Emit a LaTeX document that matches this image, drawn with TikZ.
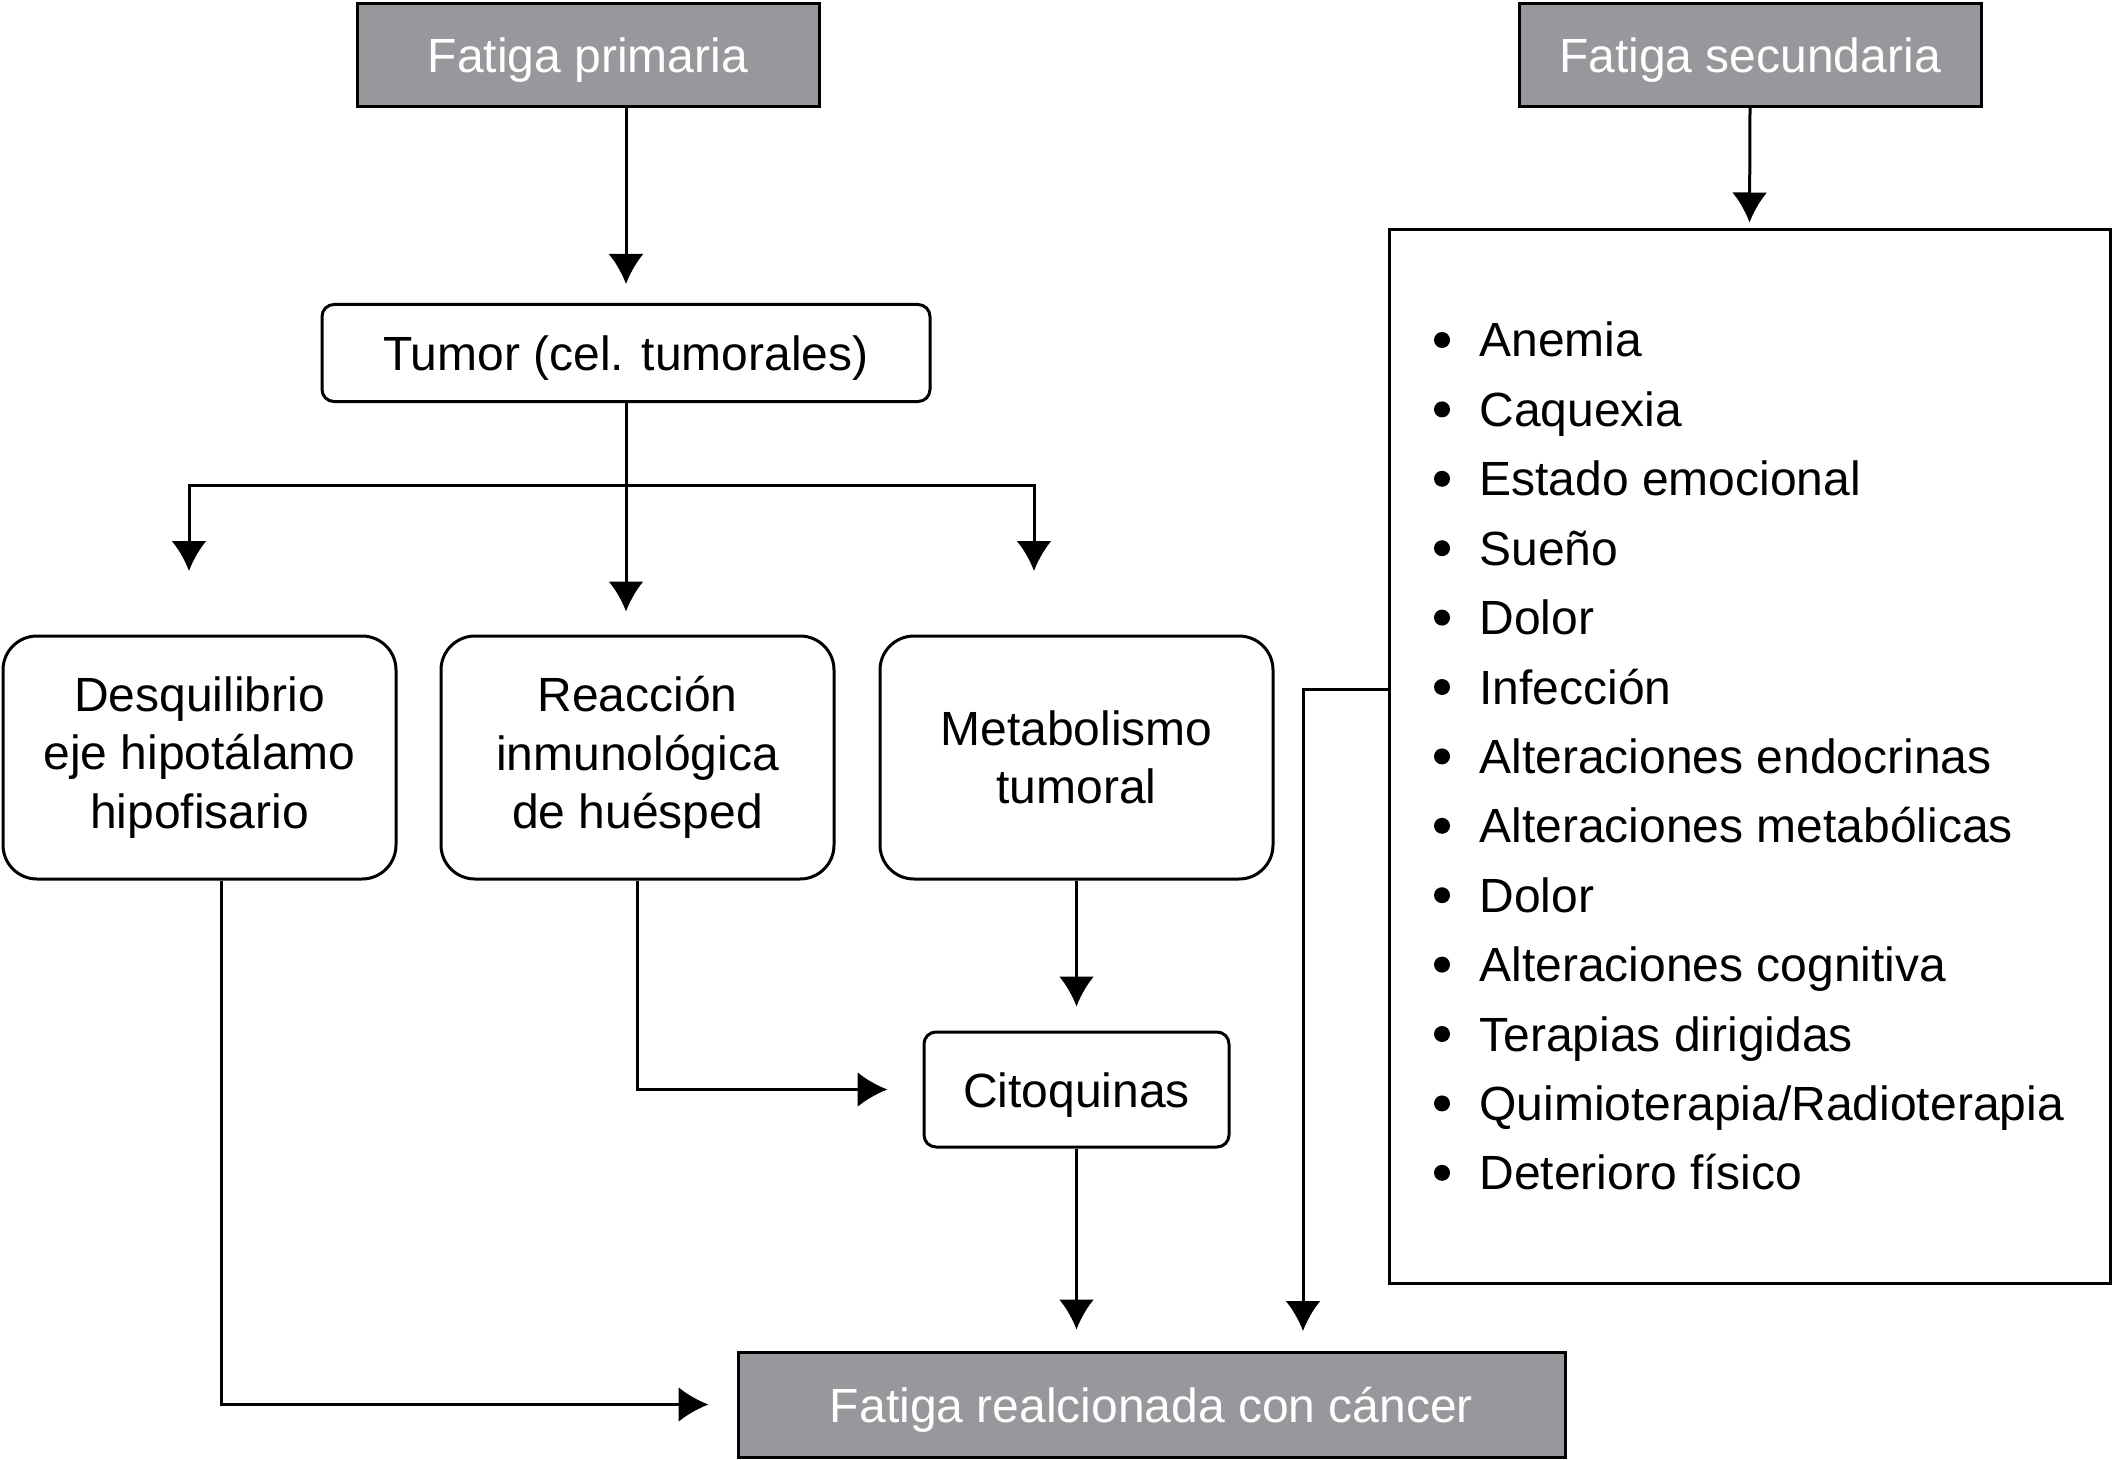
\documentclass[tikz,border=0pt]{standalone}
\usepackage{fontspec}
\setmainfont{Liberation Sans}
\usetikzlibrary{arrows.meta}
\definecolor{boxgrey}{HTML}{97989B}
\tikzset{
  greybox/.style={draw,fill=boxgrey,text=white,minimum width=231pt,minimum height=51.5pt,inner sep=0pt,
    text height=17.5pt,text depth=0pt},
  smallbox/.style={draw,rounded corners=6pt,minimum height=48.5pt,inner sep=0pt,text height=17.5pt,text depth=0pt},
  bigbox/.style={draw,rounded corners=17pt,minimum width=196.5pt,minimum height=121.5pt,align=center,inner sep=0pt},
  listbox/.style={draw,minimum width=360.5pt,minimum height=526.5pt,inner sep=0pt},
  item/.style={anchor=base west,inner sep=0pt}
}
\begin{document}
\begin{tikzpicture}[x=0.5pt,y=-0.5pt,->,>={Latex[length=15pt,width=17.5pt]},line width=1.5pt,
    font=\fontsize{24}{29.3}\selectfont]
    \useasboundingbox (0,0) rectangle (2113,1460);
    \node[greybox] (prim) at (588,55) {Fatiga primaria};
    \node[greybox] (sec) at (1750,55) {Fatiga secundaria};
    \node[smallbox,minimum width=304pt] (tumor) at (626,353) {Tumor (cel. tumorales)};
    \node[bigbox] (desq) at (199.5,757.5) {Desquilibrio\\eje hipotálamo\\hipofisario};
    \node[bigbox] (reac) at (637.5,757.5) {Reacción\\inmunológica\\de huésped};
    \node[bigbox] (metab) at (1076.5,757.5) {Metabolismo\\tumoral};
    \node[smallbox,minimum width=152.5pt,minimum height=57.5pt] (cit) at (1076.5,1089.5) {Citoquinas};
    \node[greybox,minimum width=413.5pt,minimum height=52.5pt] (fcc) at (1151.5,1404.5) {Fatiga realcionada con cáncer};
    \node[listbox] (list) at (1749.5,756.5) {};
    \foreach \t [count=\i from 0] in {Anemia,Caquexia,Estado emocional,Sueño,Dolor,Infección,
        Alteraciones endocrinas,Alteraciones metabólicas,Dolor,Alteraciones cognitiva,
        Terapias dirigidas,Quimioterapia/Radioterapia,Deterioro físico}
    {
      \fill (1442,340+69.4*\i) circle (4pt);
      \node[item] (item\i) at (1478,357+69.4*\i) {\t};
    }
    \coordinate (split) at (626,485);
    \coordinate (left) at (189,571);
    \coordinate (right) at (1034,571);
    \coordinate (fin) at (1303,1331);
    \draw[shorten >=9.5pt] (tumor.north |- prim.south) -- (tumor.north);
    \draw[shorten >=11.5pt] (tumor.south) -- (tumor.south |- reac.north);
    \draw (split) -| (left);
    \draw (split) -| (right);
    \draw[shorten >=12pt] (metab.south) -- (cit.north);
    \draw[shorten >=17.5pt] (reac.south) |- (cit.west);
    \draw[shorten >=10.5pt] (cit.south) -- (cit.south |- fcc.north);
    \draw[shorten >=14pt] ([xshift=10.75pt]desq.south) |- (fcc.west);
    \draw[shorten >=3pt] (sec.south) -- (list.north);
    \draw ([yshift=33.75pt]list.west) -| (fin);
  \end{tikzpicture}
\end{document}
